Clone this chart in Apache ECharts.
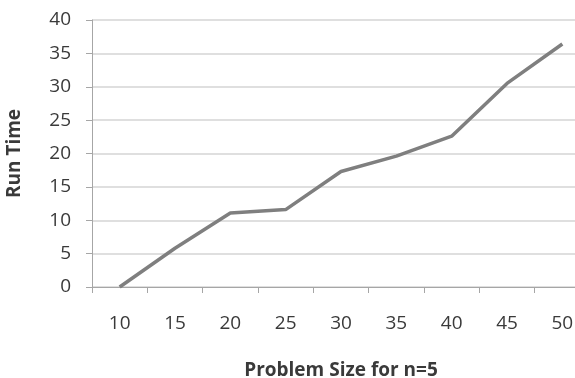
<!DOCTYPE html>
<html>
<head>
<meta charset="utf-8">
<script src="https://cdn.jsdelivr.net/npm/echarts@6/dist/echarts.min.js"></script>
<style>
  html, body { margin: 0; padding: 0; background: #ffffff; }
  #chart { width: 575px; height: 378px; }
</style>
</head>
<body>
<div id="chart"></div>
<script>
// Problem sizes on the horizontal axis
const problemSizes = ['10', '15', '20', '25', '30', '35', '40', '45', '50'];
// Measured run time for each problem size (n = 5)
const runTimes = [0, 5.8, 11.1, 11.6, 17.3, 19.6, 22.6, 30.5, 36.4];

const FONT = '"Open Sans", sans-serif';
const TEXT = '#3a3a3a';
const AXIS = '#a6a6a6';

const chart = echarts.init(document.getElementById('chart'), null, { renderer: 'canvas' });
chart.setOption({
  backgroundColor: '#ffffff',
  animation: false,
  // the plot area runs past the right edge, so the last category is clipped
  grid: { left: 92, top: 20, right: -15, bottom: 91, containLabel: false, outerBoundsMode: 'none' },
  xAxis: {
    type: 'category',
    data: problemSizes,
    boundaryGap: true,
    name: 'Problem Size for n=5',
    nameLocation: 'middle',
    nameGap: 74,
    nameTextStyle: { fontFamily: FONT, fontSize: 19, fontWeight: 'bold', color: TEXT },
    axisLine: { lineStyle: { color: AXIS, width: 1 } },
    axisTick: { show: true, length: 6, alignWithLabel: false, lineStyle: { color: AXIS } },
    axisLabel: { margin: 27, fontFamily: FONT, fontSize: 19, color: TEXT },
    splitLine: { show: false }
  },
  yAxis: {
    type: 'value',
    min: 0,
    max: 40,
    interval: 5,
    name: 'Run Time',
    nameLocation: 'middle',
    nameGap: 68,
    nameRotate: 90,
    nameTextStyle: { fontFamily: FONT, fontSize: 19, fontWeight: 'bold', color: TEXT },
    axisLine: { show: true, lineStyle: { color: AXIS, width: 1 } },
    axisTick: { show: true, length: 6, lineStyle: { color: AXIS } },
    axisLabel: { margin: 21, fontFamily: FONT, fontSize: 19, color: TEXT },
    splitLine: { show: true, lineStyle: { color: '#d4d4d4', width: 1.5 } }
  },
  series: [{
    type: 'line',
    data: runTimes,
    showSymbol: false,
    symbol: 'none',
    lineStyle: { color: '#7f7f7f', width: 3.5 },
    itemStyle: { color: '#7f7f7f' }
  }]
});
</script>
</body>
</html>
